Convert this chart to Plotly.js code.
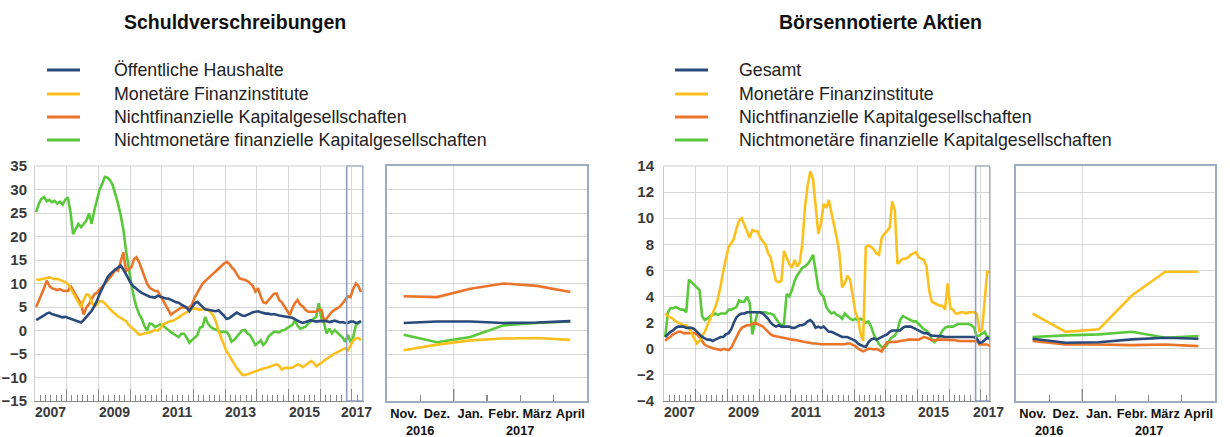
<!DOCTYPE html>
<html><head><meta charset="utf-8">
<script src="https://cdn.plot.ly/plotly-3.0.1.min.js"></script>
<style>html,body{margin:0;padding:0;background:#fff}#chart{width:1230px;height:437px}</style>
</head><body><div id="chart"></div>
<script>
// ---------- DATA ----------
const startYear = 2007;              // monthly series from Jan 2007 to Apr 2017
const seriesNamesLeft  = ["Öffentliche Haushalte", "Monetäre Finanzinstitute", "Nichtfinanzielle Kapitalgesellschaften", "Nichtmonetäre finanzielle Kapitalgesellschaften"];
const seriesNamesRight = ["Gesamt", "Monetäre Finanzinstitute", "Nichtfinanzielle Kapitalgesellschaften", "Nichtmonetäre finanzielle Kapitalgesellschaften"];
const titleLeft = "Schuldverschreibungen";
const titleRight = "Börsennotierte Aktien";
const yearLabels = ["2007", "2009", "2011", "2013", "2015", "2017"];
const zoomMonths = ["Nov.", "Dez.", "Jan.", "Febr.", "März", "April"];
const zoomYears = ["2016", "2017"];

// Schuldverschreibungen (left)
const sv_oeff = [
 2.2,2.5,2.8,3.2,3.6,3.8,3.5,3.3,3.1,3.0,2.8,2.9,
 2.7,2.6,2.4,2.2,2.0,1.7,2.2,2.8,3.4,4.2,5.2,6.3,
 7.8,9.1,10.2,11.3,12.0,12.6,13.0,13.4,13.8,13.0,12.0,11.0,
 9.9,9.3,8.8,8.4,8.0,7.7,7.5,7.2,7.1,7.0,7.4,7.2,
 7.0,6.8,6.8,6.6,6.3,6.0,5.9,5.5,5.2,4.9,4.1,5.0,
 5.8,6.1,5.6,5.0,4.5,4.4,4.3,4.2,4.1,4.3,3.8,3.2,
 2.5,2.6,3.0,3.5,3.8,3.5,3.2,3.1,3.3,3.6,3.9,4.0,
 4.1,3.9,3.7,3.6,3.6,3.4,3.5,3.3,3.2,3.1,3.0,2.9,
 2.8,2.7,2.4,2.0,1.8,1.6,1.8,2.0,2.2,2.0,1.9,2.0,
 2.0,2.1,2.0,1.8,2.0,2.1,1.9,1.7,1.8,1.6,1.6,1.9,
 1.9,1.6,1.7,2.0];
const sv_mfi = [
 10.9,10.8,10.9,11.0,11.2,11.3,11.1,10.9,11.0,10.8,10.6,10.3,
 9.9,9.0,8.1,7.0,6.0,5.0,6.5,7.7,7.5,6.0,5.2,5.5,
 6.3,6.2,5.8,5.0,4.5,4.0,3.5,3.0,2.7,2.3,2.0,1.2,
 0.6,0.2,-0.3,-0.9,-0.8,-0.6,-0.5,-0.4,-0.2,0.1,0.0,0.4,
 1.3,1.6,1.8,2.0,2.1,2.4,2.8,3.2,3.6,3.9,4.3,4.6,
 4.7,4.6,4.4,4.5,4.6,4.3,4.0,3.2,2.0,0.0,-1.5,-3.0,
 -4.4,-5.3,-6.2,-7.2,-8.0,-8.7,-9.4,-9.5,-9.3,-9.0,-8.8,-8.6,
 -8.4,-8.2,-8.1,-8.0,-7.8,-7.6,-7.4,-7.2,-7.5,-8.3,-8.0,-7.9,
 -8.0,-7.9,-7.6,-7.2,-7.4,-7.8,-7.4,-7.0,-6.5,-6.8,-7.6,-7.2,
 -6.9,-6.4,-6.0,-5.7,-5.3,-4.9,-4.6,-4.3,-4.0,-3.8,-4.2,-3.0,
 -2.1,-1.7,-1.6,-2.0];
const sv_nfc = [
 5.0,6.3,7.7,9.0,10.6,9.5,9.0,8.8,8.6,8.8,8.5,8.4,
 8.4,9.5,8.5,7.7,6.5,5.6,3.4,4.9,5.6,6.5,7.7,8.0,
 8.8,9.3,10.0,10.8,11.3,12.0,13.0,12.7,15.0,16.6,12.7,13.0,
 13.4,15.2,15.6,14.5,13.0,11.3,10.0,9.1,8.7,8.4,8.4,7.5,
 6.5,5.5,4.5,3.4,3.8,4.1,4.5,4.9,4.9,4.8,4.9,5.5,
 7.0,8.0,9.2,10.0,10.5,11.1,11.5,12.1,12.6,13.2,13.8,14.2,
 14.6,14.2,13.5,12.9,12.0,11.1,10.9,10.8,10.5,10.0,9.5,8.3,
 9.0,7.2,6.0,5.8,6.5,7.2,7.8,7.9,6.5,6.0,5.1,4.2,
 3.3,4.8,5.8,6.5,5.5,5.1,4.4,4.0,4.0,4.0,4.0,4.4,
 4.4,2.0,2.5,3.3,4.0,4.4,4.8,5.1,5.8,6.5,7.3,7.1,
 8.9,10.0,9.5,8.2];
const sv_nmfi = [
 25.2,27.0,28.0,28.4,27.5,27.8,27.3,27.6,27.0,27.4,26.8,27.8,
 28.3,25.0,20.5,21.5,22.7,22.0,22.8,23.4,24.9,22.7,25.6,28.0,
 30.0,31.3,32.7,32.5,32.0,30.9,29.1,27.0,24.5,21.5,17.0,13.0,
 9.9,7.0,5.0,3.5,2.5,1.0,0.0,1.5,1.3,0.7,1.0,1.3,
 1.0,0.5,0.0,-0.3,-0.7,-1.0,-1.4,-0.7,-0.7,-1.5,-2.6,-2.0,
 -1.4,-1.0,0.6,0.8,2.9,1.5,0.8,0.4,0.2,0.0,-0.3,-0.3,
 -0.3,-1.0,-2.4,-2.0,-1.3,-0.5,0.0,0.1,-0.6,-1.0,-2.0,-3.1,
 -2.6,-2.1,-3.1,-2.5,-1.3,-0.8,-0.3,-0.3,-0.4,0.0,0.1,0.5,
 0.8,1.2,2.2,1.0,0.4,0.6,0.8,1.5,1.9,2.5,2.9,5.8,
 2.5,1.5,-0.6,0.4,-0.6,0.1,-0.4,-1.0,-1.5,-2.4,-0.9,-2.5,
 -1.4,1.1,1.6,1.9];

// Börsennotierte Aktien (right)
const ak_gesamt = [
 0.9,1.1,1.3,1.4,1.6,1.7,1.7,1.7,1.6,1.6,1.6,1.5,
 1.3,1.1,0.9,0.8,0.7,0.7,0.6,0.7,0.8,0.9,0.9,1.1,
 1.2,1.5,2.0,2.4,2.6,2.7,2.7,2.8,2.8,2.8,2.8,2.8,
 2.8,2.7,2.5,2.3,2.0,1.8,1.7,1.8,1.7,1.7,1.7,1.7,
 1.6,1.6,1.7,1.8,1.8,1.9,2.1,2.2,2.0,1.6,1.7,1.6,
 1.7,1.5,1.3,1.3,1.2,1.1,1.0,0.9,0.9,0.9,0.8,0.7,
 0.6,0.4,0.3,0.2,0.15,0.5,0.7,0.8,0.7,0.8,0.9,1.0,
 1.1,1.3,1.4,1.4,1.4,1.4,1.6,1.7,1.7,1.7,1.6,1.5,
 1.4,1.3,1.2,1.2,1.1,1.0,1.0,1.0,1.0,0.95,0.9,0.9,
 0.9,0.9,0.9,0.9,0.9,0.9,0.9,0.9,0.9,0.9,0.77,0.46,
 0.5,0.72,0.85,0.77];
const ak_mfi = [
 2.7,2.5,2.4,2.3,2.1,2.0,1.9,1.8,1.8,1.6,1.2,0.8,
 0.4,0.6,0.9,1.3,1.8,2.3,2.7,3.2,3.9,4.8,6.0,7.0,
 7.8,8.1,8.4,9.2,9.8,10.0,9.5,9.0,8.5,9.1,9.0,9.0,
 8.5,8.2,8.0,7.3,7.0,6.0,5.2,5.1,5.2,7.5,7.0,6.5,
 6.2,6.8,6.3,6.6,8.1,10.9,12.5,13.6,13.0,10.9,8.8,9.6,
 11.1,10.8,11.4,10.4,9.5,8.5,7.3,4.7,5.0,5.6,5.3,4.0,
 2.8,2.3,1.2,0.6,7.8,7.9,7.8,7.6,7.3,7.2,8.5,8.8,
 9.0,9.3,11.3,10.6,6.5,6.7,6.9,6.9,7.0,7.2,7.3,7.4,
 7.0,6.9,6.8,6.3,4.5,3.6,3.5,3.4,3.3,3.3,3.0,5.0,
 3.1,3.0,2.7,2.7,2.8,2.8,2.7,2.8,2.8,2.8,2.7,1.3,
 1.5,4.1,5.9,5.9];
const ak_nfc = [
 0.6,0.8,0.9,1.1,1.2,1.3,1.3,1.2,1.2,1.2,1.2,1.2,
 1.1,0.9,0.6,0.3,0.2,0.1,0.05,0.0,-0.05,-0.1,0.0,-0.05,
 -0.1,0.1,0.5,1.0,1.3,1.6,1.7,1.8,1.8,1.9,2.0,1.9,
 1.8,1.7,1.5,1.3,1.1,1.0,0.95,0.9,0.85,0.8,0.8,0.75,
 0.7,0.7,0.65,0.6,0.55,0.5,0.45,0.4,0.4,0.4,0.35,0.35,
 0.35,0.35,0.35,0.3,0.3,0.3,0.3,0.3,0.35,0.4,0.4,0.3,
 0.2,0.0,-0.1,-0.2,-0.1,0.0,0.0,-0.05,0.0,-0.1,-0.2,0.2,
 0.5,0.5,0.5,0.5,0.55,0.6,0.6,0.65,0.7,0.7,0.7,0.7,
 0.7,0.8,0.9,0.85,0.75,0.65,0.65,0.7,0.7,0.7,0.7,0.7,
 0.7,0.7,0.65,0.6,0.6,0.55,0.55,0.55,0.6,0.6,0.59,0.33,
 0.33,0.28,0.33,0.2];
const ak_nmfi = [
 0.9,2.8,3.1,3.1,3.2,3.1,3.0,3.0,2.8,5.3,5.1,4.9,
 4.7,4.5,2.5,2.2,2.3,2.5,2.6,2.7,2.6,2.7,2.7,2.7,
 3.0,3.0,3.1,3.2,3.7,3.6,3.6,4.0,3.5,1.1,2.0,2.8,
 2.8,2.8,2.8,2.7,2.7,2.6,2.3,2.0,1.8,1.9,4.2,4.0,
 4.5,5.2,5.6,5.9,6.2,6.3,6.5,6.8,7.2,6.0,4.6,4.2,
 4.0,3.2,2.9,2.7,2.8,2.6,2.5,2.3,2.7,2.5,2.3,2.2,
 2.3,2.2,2.3,2.2,2.0,2.1,1.7,1.1,0.7,0.35,0.15,0.05,
 0.3,0.7,0.9,1.0,1.4,2.2,2.5,2.4,2.3,2.2,2.1,2.1,
 1.9,1.7,1.5,1.4,1.2,0.7,0.5,0.7,1.0,1.4,1.6,1.7,
 1.7,1.7,1.8,1.9,1.9,1.9,1.9,1.9,1.8,1.6,0.9,1.03,
 1.1,1.3,0.85,0.97];

// ---------- STYLE ----------
const COLORS = ["#2b4a7c", "#fcc01e", "#e9742a", "#5ac83b"];
const FONT = "'Liberation Sans', Arial, sans-serif";
const GRID = "#d6d6d6";
const PANEL_LINE = "#9eabc1";
const BOX_LINE = "#8e9dbb";
const TICK_C = "#8a8a8a";
const LW = 2.6;

function monthDates(n) {
  const out = [];
  for (let i = 0; i < n; i++) {
    const y = startYear + Math.floor(i / 12), m = (i % 12) + 1;
    out.push(y + "-" + String(m).padStart(2, "0") + "-15");
  }
  return out;
}
const dates = monthDates(sv_oeff.length);
const last6 = a => a.slice(a.length - 6);

const W = 1230, H = 437;
const px = v => v / W, py = v => 1 - v / H;
const yDom = [py(401), py(166)];

const leftSeries = [sv_oeff, sv_mfi, sv_nfc, sv_nmfi];
const rightSeries = [ak_gesamt, ak_mfi, ak_nfc, ak_nmfi];

const traces = [];
leftSeries.forEach((s, i) => {
  traces.push({x: dates, y: s, xaxis: "x", yaxis: "y", mode: "lines", name: seriesNamesLeft[i],
    line: {color: COLORS[i], width: LW}, showlegend: false, hoverinfo: "skip"});
  traces.push({x: zoomMonths, y: last6(s), xaxis: "x2", yaxis: "y2", mode: "lines", name: seriesNamesLeft[i],
    line: {color: COLORS[i], width: LW}, showlegend: false, hoverinfo: "skip"});
});
rightSeries.forEach((s, i) => {
  traces.push({x: dates, y: s, xaxis: "x3", yaxis: "y3", mode: "lines", name: seriesNamesRight[i],
    line: {color: COLORS[i], width: LW}, showlegend: false, hoverinfo: "skip"});
  traces.push({x: zoomMonths, y: last6(s), xaxis: "x4", yaxis: "y4", mode: "lines", name: seriesNamesRight[i],
    line: {color: COLORS[i], width: LW}, showlegend: false, hoverinfo: "skip"});
});
// draw blue last (on top)
traces.sort((a, b) => COLORS.indexOf(b.line.color) - COLORS.indexOf(a.line.color));

const yTickFont = {family: FONT, size: 15, color: "#3a3a3a", weight: "bold"};
const xYearFont = {family: FONT, size: 14, color: "#3a3a3a", weight: "bold"};
const monthFont = {family: FONT, size: 12.8, color: "#111", weight: "bold"};

function mainX(domain, rangeEnd, anchor) {
  return {domain: domain, anchor: anchor, type: "date", range: ["2007-01-01", rangeEnd],
    dtick: "M12", tick0: "2007-01-01", ticks: "inside", ticklen: 12, tickcolor: TICK_C, tickwidth: 1,
    minor: {dtick: "M2", ticks: "inside", ticklen: 6, tickcolor: TICK_C, tickwidth: 1, showgrid: false},
    showticklabels: false, showgrid: true, gridcolor: GRID, gridwidth: 1,
    showline: true, linecolor: TICK_C, linewidth: 1.2, zeroline: false, fixedrange: true};
}
function mainY(range, dtick, standoff, anchor) {
  return {domain: yDom, anchor: anchor, range: range, dtick: dtick, tick0: 0, ticks: "", showgrid: true,
    gridcolor: GRID, gridwidth: 1, zeroline: false, showline: true, mirror: true,
    linecolor: "#cfcfcf", linewidth: 1, tickfont: yTickFont, ticklabelstandoff: standoff, fixedrange: true};
}
function zoomX(domain, anchor) {
  return {domain: domain, anchor: anchor, type: "category", range: [-0.5, 5.5], tickson: "boundaries",
    ticks: "inside", ticklen: 6, tickcolor: TICK_C, tickwidth: 1.2, showgrid: false, tickangle: 0,
    showline: true, mirror: true, linecolor: PANEL_LINE, linewidth: 2, tickfont: monthFont,
    ticklabelstandoff: 0, fixedrange: true};
}
function zoomY(range, dtick, anchor) {
  return {domain: yDom, range: range, dtick: dtick, tick0: 0, anchor: anchor, showticklabels: false,
    ticks: "", showgrid: true, gridcolor: GRID, zeroline: false, showline: true, mirror: true,
    linecolor: PANEL_LINE, linewidth: 2, fixedrange: true};
}

const xd1 = [px(35), px(363)], xd2 = [px(387), px(587)], xd3 = [px(664), px(990)], xd4 = [px(1016), px(1215)];
const endL = "2017-05-08", endR = "2017-04-16";

const shapes = [];
const annotations = [];

// highlight boxes (Nov 2016 onward) in the main charts
shapes.push({type: "rect", xref: "x", yref: "y domain", x0: "2016-11-01", x1: endL, y0: 0, y1: 1,
  line: {color: BOX_LINE, width: 1.6}, layer: "above"});
shapes.push({type: "rect", xref: "x3", yref: "y3 domain", x0: "2016-11-01", x1: endR, y0: 0, y1: 1,
  line: {color: BOX_LINE, width: 1.6}, layer: "above"});
// top frame line of main charts
[["x domain", "y domain"], ["x3 domain", "y3 domain"]].forEach(([xr, yr]) => {
  shapes.push({type: "line", xref: xr, yref: yr, x0: 0, x1: 1, y0: 1, y1: 1, line: {color: "#cfcfcf", width: 1}});
});
// year boundary (Dez | Jan) gridline and long tick in zoom panels
[["x2", "y2 domain"], ["x4", "y4 domain"]].forEach(([xr, yr]) => {
  shapes.push({type: "line", xref: xr, yref: yr, x0: 1.5, x1: 1.5, y0: 0, y1: 1, line: {color: GRID, width: 1}, layer: "below"});
  shapes.push({type: "line", xref: xr, yref: yr, x0: 1.5, x1: 1.5, y0: 0, y1: 12 / 235, line: {color: TICK_C, width: 1.4}});
});
// year labels below main charts
const yearPosL = ["2007-07-01", "2009-07-01", "2011-07-01", "2013-07-01", "2015-07-01", "2017-02-25"];
const yearPosR = ["2007-07-01", "2009-07-01", "2011-07-01", "2013-07-01", "2015-07-01", "2017-03-25"];
yearLabels.forEach((t, i) => {
  annotations.push({xref: "x", yref: "paper", x: yearPosL[i], y: py(412), text: t, showarrow: false,
    xanchor: "center", yanchor: "middle", font: xYearFont});
  annotations.push({xref: "x3", yref: "paper", x: yearPosR[i], y: py(412), text: t, showarrow: false,
    xanchor: "center", yanchor: "middle", font: xYearFont});
});
// zoom panel year labels
[["x2", 0.5, 0], ["x2", 3.5, 1], ["x4", 0.5, 0], ["x4", 3.5, 1]].forEach(([xr, xv, k]) => {
  annotations.push({xref: xr, yref: "paper", x: xv, y: py(430), text: zoomYears[k], showarrow: false,
    xanchor: "center", yanchor: "middle", font: monthFont});
});
// titles
annotations.push({xref: "paper", yref: "paper", x: px(235), y: py(22), text: "<b>" + titleLeft + "</b>",
  showarrow: false, xanchor: "center", yanchor: "middle", font: {family: FONT, size: 19.5, color: "#111"}});
annotations.push({xref: "paper", yref: "paper", x: px(880), y: py(22), text: "<b>" + titleRight + "</b>",
  showarrow: false, xanchor: "center", yanchor: "middle", font: {family: FONT, size: 19.5, color: "#111"}});
// legends
const rows = [70, 94, 117, 140];
function legend(names, lx0, lx1, tx) {
  names.forEach((n, i) => {
    shapes.push({type: "line", xref: "paper", yref: "paper", x0: px(lx0), x1: px(lx1), y0: py(rows[i]), y1: py(rows[i]),
      line: {color: COLORS[i], width: 3}});
    annotations.push({xref: "paper", yref: "paper", x: px(tx), y: py(rows[i]), text: n, showarrow: false,
      xanchor: "left", yanchor: "middle", font: {family: FONT, size: 17.8, color: "#222"}});
  });
}
legend(seriesNamesLeft, 47, 80, 112);
legend(seriesNamesRight, 675, 708, 737);

const layout = {
  width: W, height: H, margin: {l: 0, r: 0, t: 0, b: 0}, paper_bgcolor: "#fff", plot_bgcolor: "#fff",
  showlegend: false, font: {family: FONT},
  xaxis: mainX(xd1, endL, "y"), yaxis: mainY([-15, 35], 5, 4, "x"),
  xaxis2: zoomX(xd2, "y2"), yaxis2: zoomY([-15, 35], 5, "x2"),
  xaxis3: mainX(xd3, endR, "y3"), yaxis3: mainY([-4, 14], 2, 6, "x3"),
  xaxis4: zoomX(xd4, "y4"), yaxis4: zoomY([-4, 14], 2, "x4"),
  shapes: shapes, annotations: annotations
};

Plotly.newPlot("chart", traces, layout, {displayModeBar: false, staticPlot: true});
</script></body></html>
